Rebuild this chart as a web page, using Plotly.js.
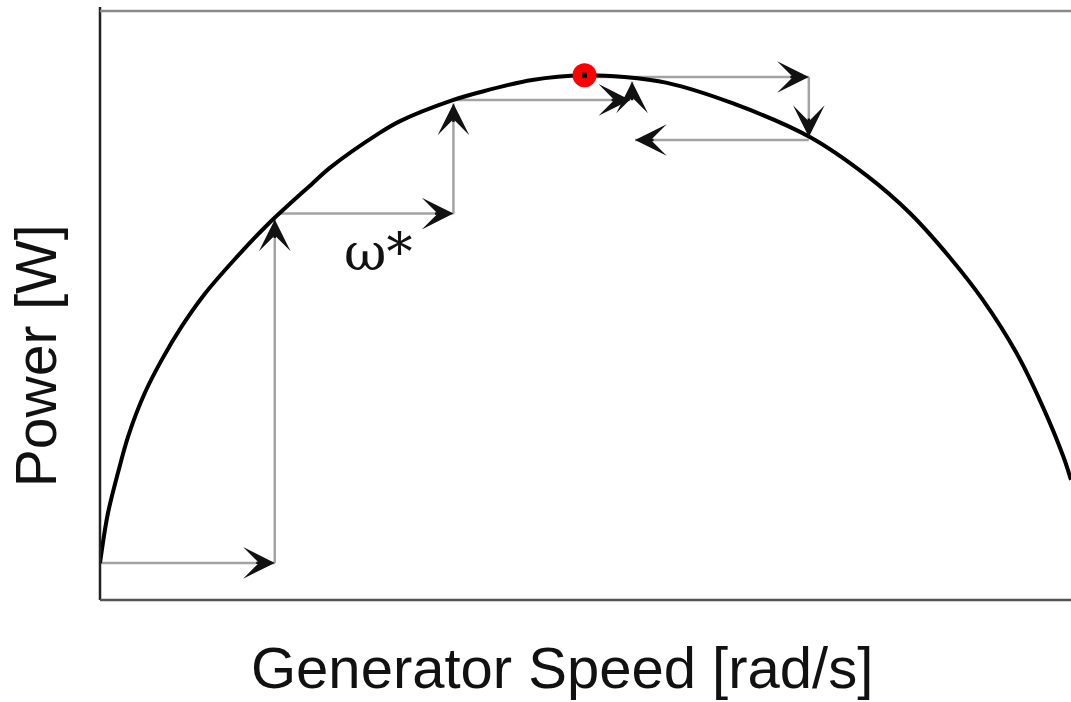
<!DOCTYPE html>
<html>
<head>
<meta charset="utf-8">
<script src="https://cdn.plot.ly/plotly-3.0.1.min.js"></script>
<style>
  html, body { margin: 0; padding: 0; background: #fff; }
  #chart { width: 1071px; height: 702px; }
</style>
</head>
<body>
<div id="chart"></div>
<script>
// Power curve of the generator versus its speed (arbitrary units)
const speed = [0, 0.8, 1.9, 2.9, 4.6, 6.4, 8.4, 10.8, 13.9, 17.3, 21.8, 23.7, 28.8, 30.9, 36.4, 39.1, 44.5,
               49.9, 54.0, 58.4, 65.2, 73.1, 79.0, 83.4, 87.5, 90.9, 94.4, 97.1, 99.2, 100];
const power = [6.3, 14.6, 21.9, 27.8, 35.1, 40.9, 46.4, 52.0, 57.9, 63.8, 70.6, 73.4, 79.3, 81.3, 84.9, 86.2, 88.3,
               89.1, 88.8, 87.8, 84.3, 78.6, 72.0, 65.7, 58.2, 51.0, 41.9, 32.8, 24.4, 20.4];

// Maximum power point
const mppSpeed = [49.9];
const mppPower = [89.1];

// Hill-climbing search steps: start and end of each step
const stepX0 = [0, 18.0, 18.3, 36.4, 36.4, 54.6, 49.9, 73.0, 73.0];
const stepY0 = [6.3, 6.3, 65.6, 65.6, 84.9, 84.9, 88.8, 88.8, 78.1];
const stepX1 = [18.0, 18.0, 36.4, 36.4, 54.6, 54.8, 73.0, 73.0, 55.1];
const stepY1 = [6.3, 64.6, 65.6, 84.3, 84.9, 88.0, 88.8, 78.6, 78.1];

// Label of the reference speed
const refLabel = 'ω*';
const refLabelX = 28.6;
const refLabelY = 59.1;

const xTitle = 'Generator Speed [rad/s]';
const yTitle = 'Power [W]';

// gray step lines, one trace broken by gaps
const segX = [], segY = [];
for (let i = 0; i < stepX0.length; i++) {
  segX.push(stepX0[i], stepX1[i], null);
  segY.push(stepY0[i], stepY1[i], null);
}

const traces = [
  {
    x: segX, y: segY, mode: 'lines', type: 'scatter',
    line: { color: '#a3a3a3', width: 2.5 },
    hoverinfo: 'skip', showlegend: false
  },
  {
    x: speed, y: power, mode: 'lines', type: 'scatter',
    line: { color: '#000', width: 4, shape: 'spline', smoothing: 0.9 },
    showlegend: false
  },
  {
    x: mppSpeed, y: mppPower, mode: 'markers', type: 'scatter',
    marker: { color: '#ff0000', size: 24 },
    showlegend: false
  },
  {
    x: mppSpeed, y: mppPower, mode: 'markers', type: 'scatter',
    marker: { color: '#000', size: 5, symbol: 'square' },
    showlegend: false
  }
];

// black arrowheads at the end of every step
const headLen = 20;
const annotations = [];
for (let i = 0; i < stepX0.length; i++) {
  const dx = stepX1[i] - stepX0[i];
  const dy = stepY1[i] - stepY0[i];
  const horiz = Math.abs(dx) > Math.abs(dy);
  annotations.push({
    x: stepX1[i], y: stepY1[i], xref: 'x', yref: 'y',
    ax: horiz ? -Math.sign(dx) * headLen : 0,
    ay: horiz ? 0 : Math.sign(dy) * headLen,
    axref: 'pixel', ayref: 'pixel',
    text: '', showarrow: true,
    arrowhead: 3, arrowsize: 2.2, arrowwidth: 2.4, arrowcolor: '#111',
    standoff: 0
  });
}

annotations.push({
  x: refLabelX, y: refLabelY, xref: 'x', yref: 'y',
  text: refLabel, showarrow: false,
  font: { family: 'DejaVu Serif', size: 52, color: '#111' }
});

// axis titles
annotations.push({
  x: 0.4753, y: -0.1138, xref: 'paper', yref: 'paper',
  xanchor: 'center', yanchor: 'middle',
  text: xTitle, showarrow: false,
  font: { family: 'Liberation Sans, Arial, sans-serif', size: 58, color: '#111' }
});
annotations.push({
  x: -0.0659, y: 0.414, xref: 'paper', yref: 'paper',
  xanchor: 'center', yanchor: 'middle', textangle: -90,
  text: yTitle, showarrow: false,
  font: { family: 'Liberation Sans, Arial, sans-serif', size: 57, color: '#111' }
});

const layout = {
  width: 1071, height: 702,
  margin: { l: 100, r: 0, t: 11, b: 102, pad: 0 },
  paper_bgcolor: '#fff', plot_bgcolor: '#fff',
  showlegend: false,
  xaxis: {
    range: [0, 100], showgrid: false, zeroline: false, showticklabels: false,
    ticks: '', showline: false, fixedrange: true
  },
  yaxis: {
    range: [0, 100], showgrid: false, zeroline: false, showticklabels: false,
    ticks: '', showline: false, fixedrange: true
  },
  shapes: [
    { type: 'line', xref: 'paper', yref: 'paper', x0: 0, x1: 0, y0: 0, y1: 1.007,
      line: { color: '#222', width: 2.5 } },
    { type: 'line', xref: 'paper', yref: 'paper', x0: 0, x1: 1, y0: 1, y1: 1,
      line: { color: '#8a8a8a', width: 2.5 } },
    { type: 'line', xref: 'paper', yref: 'paper', x0: 0, x1: 1, y0: 0, y1: 0,
      line: { color: '#555', width: 2.5 } }
  ],
  annotations: annotations
};

Plotly.newPlot('chart', traces, layout, { staticPlot: true, displayModeBar: false });
</script>
</body>
</html>
